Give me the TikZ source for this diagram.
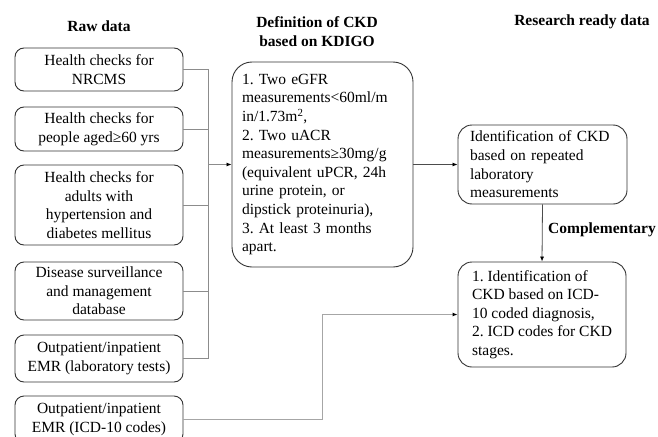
\documentclass[tikz,border=0pt]{standalone}
\usepackage{fontspec}
\setmainfont{Liberation Serif}
\usetikzlibrary{arrows.meta}
\newcommand{\bodyfs}{\fontsize{15.5}{18.6}\selectfont\frenchspacing}
\begin{document}
\begin{tikzpicture}[x=1pt,y=-1pt,
  box/.style={draw=black!80, line width=0.9pt, font=\bodyfs, inner sep=0pt},
  lbox/.style={box, rounded corners=9pt, minimum width=168pt, align=center},
  dbox/.style={box, rounded corners=20pt, minimum width=181pt, minimum height=205pt,
     text width=161pt, align=left, inner xsep=10pt},
  rbox/.style={box, rounded corners=14pt, minimum width=169pt,
     text width=145pt, align=left, inner xsep=12pt},
  title/.style={font=\bodyfs\bfseries, align=center, inner sep=0pt},
  bus/.style={draw=black!45, line width=0.8pt},
  conn/.style={draw=black!70, line width=0.8pt},
  tip/.style={-{Latex[length=5pt,width=4pt,color=black]}}
]
\clip (0,0) rectangle (658,436);
\fill[white] (0,0) rectangle (658,436);

% titles
\node[title] (t1) at (99,26) {Raw data};
\node[title] (t2) at (317,31.5) {Definition of CKD\\based on KDIGO};
\node[title] (t3) at (582,22) {Research ready data};

% raw data boxes
\node[lbox, minimum height=43pt] (b1) at (99,69.5) {Health checks for\\NRCMS};
\node[lbox, minimum height=44pt] (b2) at (99,129) {Health checks for\\people aged≥60 yrs};
\node[lbox, minimum height=80pt] (b3) at (99,205) {Health checks for\\adults with\\hypertension and\\diabetes mellitus};
\node[lbox, minimum height=58pt] (b4) at (99,291) {Disease surveillance\\and management\\database};
\node[lbox, minimum height=47pt] (b5) at (99,358.5) {Outpatient/inpatient\\EMR (laboratory tests)};
\node[lbox, minimum height=47pt] (b6) at (99,419.5) {Outpatient/inpatient\\EMR (ICD-10 codes)};

% definition box
\node[dbox] (def) at (322.5,164.5) {1. Two eGFR\\measurements<60ml/m\\in/1.73m\textsuperscript{2},\\2. Two uACR\\measurements≥30mg/g\\(equivalent uPCR, 24h\\urine protein, or\\dipstick proteinuria),\\3. At least 3 months\\apart.};

% research ready boxes
\node[rbox, minimum height=79pt] (ra) at (542.5,164.5) {Identification of CKD\\based on repeated\\laboratory\\measurements};
\node[box, rounded corners=14pt, align=left, minimum height=105pt, minimum width=168pt] (rb) at (542,314.5) {1. Identification of\\CKD based on ICD-\\10 coded diagnosis,\\2. ICD codes for CKD\\stages.};

% bus
\coordinate (busc) at (208,164.5);
\coordinate (jog) at (322,0);
\foreach \b in {b1,b2,b3,b4,b5} {
  \draw[bus] (\b.east) -| (busc);
}
\draw[bus, tip] (busc) -- (def.west);

\draw[conn, tip] (def.east) -- (ra.west);
\draw[conn, tip] (ra.south) -- (rb.north);
\node[title, anchor=west] (comp) at (548,230) {Complementary};

\draw[draw=black!35, line width=0.9pt, tip] (b6.east) -- (b6.east -| jog) |- (rb.west);
\end{tikzpicture}
\end{document}
